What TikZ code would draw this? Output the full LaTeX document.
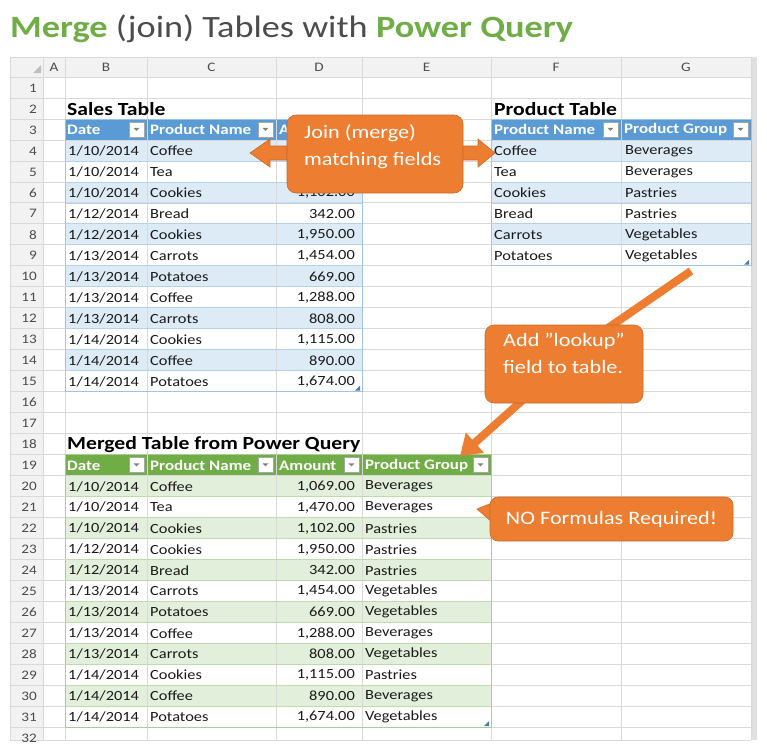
\documentclass[tikz,border=0pt]{standalone}
\usepackage{fontspec}
\setmainfont[FakeStretch=1.17]{Carlito}
\usetikzlibrary{arrows.meta}
\definecolor{og}{HTML}{ED7D31}
\definecolor{gr}{HTML}{70AD47}
\definecolor{bl}{HTML}{5B9BD5}
\definecolor{lbl}{HTML}{DDEBF7}
\definecolor{lgr}{HTML}{E2EFDA}
\definecolor{gl}{HTML}{D9D9D9}
\definecolor{hd}{HTML}{F2F2F2}
\definecolor{tx}{HTML}{1A1A1A}
\newcommand\RY[1]{(77+(#1-1)*20.97)}
\begin{document}
\begin{tikzpicture}[x=1pt,y=-1pt,
  txt/.style={inner sep=0pt,text=tx,font=\fontsize{14}{15}\selectfont},
  hdr/.style={inner sep=0pt,text=white,font=\bfseries\fontsize{14.5}{15}\selectfont},
  colh/.style={inner sep=0pt,text=black!70,font=\fontsize{13}{14}\selectfont},
  ttl/.style={inner sep=0pt,text=black,font=\bfseries\fontsize{18.5}{20}\selectfont},
  ctext/.style={inner sep=0pt,text=white,font=\fontsize{19}{27}\selectfont,align=left},
  btn/.style={draw=black!35,fill=white,line width=0.6pt},
  orange/.style={fill=og,draw=og!85!black,line width=0.6pt}]
\useasboundingbox (0,0) rectangle (767,745);
\fill[white] (0,0) rectangle (767,745);
% title
\node[anchor=west,inner sep=0pt,font=\fontsize{31}{33}\selectfont] (title) at (10,29)
 {\textcolor{gr}{\bfseries Merge} \textcolor{black!70}{(join) Tables with} \textcolor{gr}{\bfseries Power Query}};
% headers
\fill[hd] (10,57) rectangle (757,77);
\fill[hd] (10,57) rectangle (43,740);
\fill[black!12] (751,57) rectangle (757,740);
% bands
\foreach \n in {4,6,...,14} \fill[lbl] (65,{\RY{\n}}) rectangle (362,{\RY{\n}+20.97});
\foreach \n in {4,6,8} \fill[lbl] (491,{\RY{\n}}) rectangle (751,{\RY{\n}+20.97});
\foreach \n in {20,22,...,30} \fill[lgr] (65,{\RY{\n}}) rectangle (491,{\RY{\n}+20.97});
\fill[bl] (65,{\RY{3}}) rectangle (362,{\RY{4}});
\fill[bl] (491,{\RY{3}}) rectangle (751,{\RY{4}});
\fill[gr] (65,{\RY{19}}) rectangle (491,{\RY{20}});
% grid
\foreach \n in {1,...,32} \draw[gl,line width=0.7pt] (10,{\RY{\n}}) -- (751,{\RY{\n}});
\foreach \x in {10,43,65,147,276,362,491,621,751} \draw[gl,line width=0.7pt] (\x,57) -- (\x,740);
\draw[gl,line width=0.7pt] (10,57) -- (751,57) (10,740) -- (751,740);
% table outlines
\draw[bl!60,line width=0.7pt] (65,{\RY{3}}) rectangle (362,{\RY{16}});
\foreach \n in {5,...,15} \draw[bl!45,line width=0.6pt] (65,{\RY{\n}}) -- (362,{\RY{\n}});
\draw[bl!60,line width=0.7pt] (491,{\RY{3}}) rectangle (751,{\RY{10}});
\foreach \n in {5,...,9} \draw[bl!45,line width=0.6pt] (491,{\RY{\n}}) -- (751,{\RY{\n}});
\draw[gr!60,line width=0.7pt] (65,{\RY{19}}) rectangle (491,{\RY{32}});
\foreach \n in {21,...,31} \draw[gr!45,line width=0.6pt] (65,{\RY{\n}}) -- (491,{\RY{\n}});
% column letters
\fill[black!25] (33,73) -- (41,65) -- (41,73) -- cycle;
\foreach \c/\x in {A/54,B/106,C/211.5,D/319,E/426.5,F/556,G/686}
  \node[colh] (col\c) at (\x,67) {\c};
\foreach \n in {1,...,31} \node[colh,anchor=east] (rh\n) at (37,{\RY{\n}+11}) {\n};
\node[colh,anchor=east] (rh32) at (37,738) {32};
% titles
\node[ttl,anchor=west] (st) at (67,{\RY{2}+11}) {Sales Table};
\node[ttl,anchor=west] (pt) at (494,{\RY{2}+11}) {Product Table};
\node[ttl,anchor=west] (mt) at (67,{\RY{18}+11}) {Merged Table from Power Query};
% header texts + buttons
\foreach \t/\x/\r/\e [count=\i] in {Date/67/3/145,Product Name/150/3/274,Amount/279/3/360,
   Product Name/494/3/619,Product Group/624/3/749,
   Date/67/19/145,Product Name/150/19/274,Amount/279/19/360,Product Group/365/19/489}{
  \node[hdr,anchor=west] (h\i) at (\x,{\RY{\r}+11}) {\t};
  \draw[btn] (\e-16,{\RY{\r}+3}) rectangle (\e-1,{\RY{\r}+18});
  \fill[black!50] (\e-11.5,{\RY{\r}+9}) -- (\e-5.5,{\RY{\r}+9}) -- (\e-8.5,{\RY{\r}+12}) -- cycle;
}
% sales data
\foreach \d/\p/\a [count=\i from 4] in {{1/10/2014}/Coffee/{1,069.00},{1/10/2014}/Tea/{1,470.00},
  {1/10/2014}/Cookies/{1,102.00},{1/12/2014}/Bread/342.00,{1/12/2014}/Cookies/{1,950.00},
  {1/13/2014}/Carrots/{1,454.00},{1/13/2014}/Potatoes/669.00,{1/13/2014}/Coffee/{1,288.00},
  {1/13/2014}/Carrots/808.00,{1/14/2014}/Cookies/{1,115.00},{1/14/2014}/Coffee/890.00,
  {1/14/2014}/Potatoes/{1,674.00}}{
  \node[txt,anchor=west] (sd\i) at (68,{\RY{\i}+11}) {\d};
  \node[txt,anchor=west] (sp\i) at (150,{\RY{\i}+11}) {\p};
  \node[txt,anchor=east] (sa\i) at (355,{\RY{\i}+11}) {\a};
}
% product table
\foreach \p/\g [count=\i from 4] in {Coffee/Beverages,Tea/Beverages,Cookies/Pastries,
  Bread/Pastries,Carrots/Vegetables,Potatoes/Vegetables}{
  \node[txt,anchor=west] (pp\i) at (494,{\RY{\i}+11}) {\p};
  \node[txt,anchor=west] (pg\i) at (625,{\RY{\i}+11}) {\g};
}
% merged table
\foreach \d/\p/\a/\g [count=\i from 20] in {{1/10/2014}/Coffee/{1,069.00}/Beverages,
  {1/10/2014}/Tea/{1,470.00}/Beverages,{1/10/2014}/Cookies/{1,102.00}/Pastries,
  {1/12/2014}/Cookies/{1,950.00}/Pastries,{1/12/2014}/Bread/342.00/Pastries,
  {1/13/2014}/Carrots/{1,454.00}/Vegetables,{1/13/2014}/Potatoes/669.00/Vegetables,
  {1/13/2014}/Coffee/{1,288.00}/Beverages,{1/13/2014}/Carrots/808.00/Vegetables,
  {1/14/2014}/Cookies/{1,115.00}/Pastries,{1/14/2014}/Coffee/890.00/Beverages,
  {1/14/2014}/Potatoes/{1,674.00}/Vegetables}{
  \node[txt,anchor=west] (md\i) at (68,{\RY{\i}+11}) {\d};
  \node[txt,anchor=west] (mp\i) at (150,{\RY{\i}+11}) {\p};
  \node[txt,anchor=east] (ma\i) at (355,{\RY{\i}+11}) {\a};
  \node[txt,anchor=west] (mg\i) at (365,{\RY{\i}+11}) {\g};
}
% resize handles
\fill[bl!80!black] (355,{\RY{16}-1}) -- (360,{\RY{16}-6}) -- (360,{\RY{16}-1}) -- cycle;
\fill[bl!80!black] (744,{\RY{10}-1}) -- (749,{\RY{10}-6}) -- (749,{\RY{10}-1}) -- cycle;
\fill[bl!80!black] (484,{\RY{32}-1}) -- (489,{\RY{32}-6}) -- (489,{\RY{32}-1}) -- cycle;
% callout 1
\fill[orange] (287,146) -- (270,146) -- (270,139) -- (250,153) -- (270,167) -- (270,160) -- (287,160) -- cycle;
\fill[orange] (462,146) -- (478,146) -- (478,139) -- (495,153) -- (478,167) -- (478,160) -- (462,160) -- cycle;
\fill[orange,rounded corners=9pt] (287,115) rectangle (463,193);
\node[ctext,anchor=north west] (c1) at (304,124) {Join (merge)\\matching fields};
% callout 2
\coordinate (p1) at (691,271);
\coordinate (p2) at (460,456);
\draw[og,line width=8pt] (p1) -- (608,328);
\draw[og,line width=8pt,-{Triangle[width=26pt,length=20pt]}] (525,398) -- (p2);
\fill[orange,rounded corners=9pt] (485,325) rectangle (643,403);
\node[ctext,anchor=north west] (c2) at (503,333) {Add \symbol{34}lookup\symbol{34}\\field to table.};
% callout 3
\fill[orange] (492,503) -- (477,509) -- (492,522) -- cycle;
\fill[orange,rounded corners=8pt] (490,497) rectangle (733,541);
\node[ctext] (c3) at (611.5,519) {NO Formulas Required!};
\end{tikzpicture}
\end{document}
